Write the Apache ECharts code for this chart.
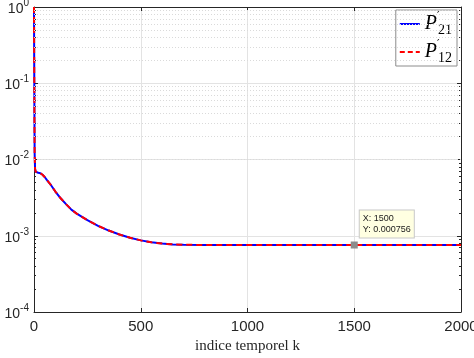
<!DOCTYPE html>
<html>
<head>
<meta charset="utf-8">
<script src="https://cdn.jsdelivr.net/npm/echarts@6/dist/echarts.min.js"></script>
<style>html,body{margin:0;padding:0;background:#fff}#c{width:474px;height:358px}</style>
</head>
<body>
<div id="c"></div>
<script>
// Time index k
const kValues = [0, 1, 2, 3, 5, 8, 12, 20, 30, 40, 50, 60, 75, 100, 125, 150, 175, 200, 250, 300, 350, 400, 450, 500, 550, 600, 650, 700, 800, 1000, 1500, 2000];
// P'21 values
const p21 = [1.0, 0.2, 0.04, 0.012, 0.0075, 0.0069, 0.0068, 0.0067, 0.0066, 0.0063, 0.0059, 0.0054, 0.0048, 0.0038, 0.0031, 0.0026, 0.0022, 0.00195, 0.0016, 0.00135, 0.00117, 0.00104, 0.00094, 0.00087, 0.00082, 0.00079, 0.00077, 0.000762, 0.000757, 0.000756, 0.000756, 0.000756];
// P'12 values (identical curve)
const p12 = [1.0, 0.2, 0.04, 0.012, 0.0075, 0.0069, 0.0068, 0.0067, 0.0066, 0.0063, 0.0059, 0.0054, 0.0048, 0.0038, 0.0031, 0.0026, 0.0022, 0.00195, 0.0016, 0.00135, 0.00117, 0.00104, 0.00094, 0.00087, 0.00082, 0.00079, 0.00077, 0.000762, 0.000757, 0.000756, 0.000756, 0.000756];
const xTicks = [0, 500, 1000, 1500, 2000];
const yMajor = [1e-4, 1e-3, 1e-2, 1e-1, 1];
const yMinor = [2e-4,3e-4,4e-4,5e-4,6e-4,7e-4,8e-4,9e-4, 2e-3,3e-3,4e-3,5e-3,6e-3,7e-3,8e-3,9e-3, 2e-2,3e-2,4e-2,5e-2,6e-2,7e-2,8e-2,9e-2, 2e-1,3e-1,4e-1,5e-1,6e-1,7e-1,8e-1,9e-1];
const tipPoint = [1500, 0.000756];

const ax = '#262626';
const font = 'Liberation Sans, Arial, Helvetica, sans-serif';
const chart = echarts.init(document.getElementById('c'), null, {renderer: 'canvas'});

function zip(a, b) { return a.map((v, i) => [v, b[i]]); }

const legendRich = {
  P: {fontFamily: 'Liberation Serif, serif', fontStyle: 'italic', fontSize: 20, color: '#000', verticalAlign: 'middle', lineHeight: 26},
  pr: {fontFamily: 'DejaVu Serif, serif', fontSize: 11, color: '#000', verticalAlign: 'top', width: 1, lineHeight: 26},
  sb: {fontFamily: 'Liberation Serif, serif', fontSize: 14, color: '#000', verticalAlign: 'bottom', lineHeight: 26}
};

const option = {
  animation: false,
  backgroundColor: '#fff',
  grid: {left: 34, right: 13, top: 7, bottom: 46, containLabel: false, outerBoundsMode: 'none'},
  legend: {
    orient: 'vertical', right: 17, top: 10,
    backgroundColor: '#fff', borderColor: '#8c8c8c', borderWidth: 1,
    padding: [1, 5, 1, 3], itemGap: 2, itemWidth: 20, itemHeight: 14,
    itemStyle: {opacity: 0},
    data: [
      {name: "P'21", lineStyle: {color: '#0000ff', width: 2, type: 'solid'}},
      {name: "P'12", lineStyle: {color: '#ff0000', width: 2, type: [5, 3]}}
    ],
    formatter: function (n) {
      const sub = n.slice(2);
      return '{P|P}{pr|\u2032}{sb|' + sub + '}';
    },
    textStyle: {rich: legendRich}
  },
  xAxis: [{
    type: 'value', min: 0, max: 2000, interval: 500,
    name: 'indice temporel k', nameLocation: 'middle', nameGap: 19,
    nameTextStyle: {fontFamily: 'Liberation Serif, serif', fontSize: 15, color: ax},
    axisLine: {onZero: false, lineStyle: {color: ax, width: 1}},
    axisTick: {inside: true, length: 4, lineStyle: {color: ax}},
    axisLabel: {fontFamily: font, fontSize: 15, color: ax, margin: 7, formatter: function (v) { return String(v); }},
    splitLine: {show: true, lineStyle: {color: '#e3e3e3', width: 1}}
  }, {
    type: 'value', min: 0, max: 2000, interval: 500, position: 'top',
    axisLine: {onZero: false, lineStyle: {color: ax, width: 1}},
    axisTick: {inside: true, length: 4, lineStyle: {color: ax}},
    axisLabel: {show: false}, splitLine: {show: false}
  }],
  yAxis: [{
    type: 'log', logBase: 10, min: 1e-4, max: 1,
    axisLine: {onZero: false, lineStyle: {color: ax, width: 1}},
    axisTick: {inside: true, length: 4, lineStyle: {color: ax}},
    minorTick: {show: true, splitNumber: 9, length: 2, lineStyle: {color: ax}},
    axisLabel: {
      margin: 5,
      formatter: function (v) {
        const e = Math.round(Math.log10(v));
        return '{b|10}{s|' + e + '}';
      },
      rich: {
        b: {fontFamily: font, fontSize: 14, color: ax, verticalAlign: 'bottom', lineHeight: 18},
        s: {fontFamily: font, fontSize: 10, color: ax, verticalAlign: 'top', lineHeight: 18}
      }
    },
    splitLine: {show: true, lineStyle: {color: '#e3e3e3', width: 1}}
  }, {
    type: 'log', logBase: 10, min: 1e-4, max: 1, position: 'right',
    axisLine: {onZero: false, lineStyle: {color: ax, width: 1}},
    axisTick: {inside: true, length: 4, lineStyle: {color: ax}},
    minorTick: {show: true, splitNumber: 9, length: 2, lineStyle: {color: ax}},
    axisLabel: {show: false}, splitLine: {show: false}
  }],
  series: [{
    name: 'minor-grid', type: 'line', data: [], z: 1, silent: true,
    markLine: {
      silent: true, symbol: ['none', 'none'], label: {show: false},
      lineStyle: {type: [1, 2], color: '#dadada', width: 1},
      data: yMinor.map(v => ({yAxis: v}))
    }
  }, {
    name: "P'21", type: 'line', data: zip(kValues, p21), showSymbol: false, symbol: 'none',
    color: '#0000ff', lineStyle: {color: '#0000ff', width: 2}, z: 3
  }, {
    name: "P'12", type: 'line', data: zip(kValues, p12), showSymbol: false, symbol: 'none',
    color: '#ff0000', lineStyle: {color: '#ff0000', width: 2, type: [6, 4]}, z: 4,
    markPoint: {
      symbol: 'rect', symbolSize: 7,
      itemStyle: {color: '#8c8c8c'},
      data: [{coord: tipPoint, value: tipPoint[1]}],
      label: {
        show: true, position: [9, -31], align: 'left', verticalAlign: 'top',
        formatter: 'X: ' + tipPoint[0] + '\nY: ' + tipPoint[1],
        fontFamily: font, fontSize: 9, color: '#1a1a1a', lineHeight: 11,
        backgroundColor: '#ffffe1', borderColor: '#c8c8c8', borderWidth: 1,
        padding: [3, 3, 2, 3]
      }
    }
  }]
};
chart.setOption(option);
</script>
</body>
</html>
